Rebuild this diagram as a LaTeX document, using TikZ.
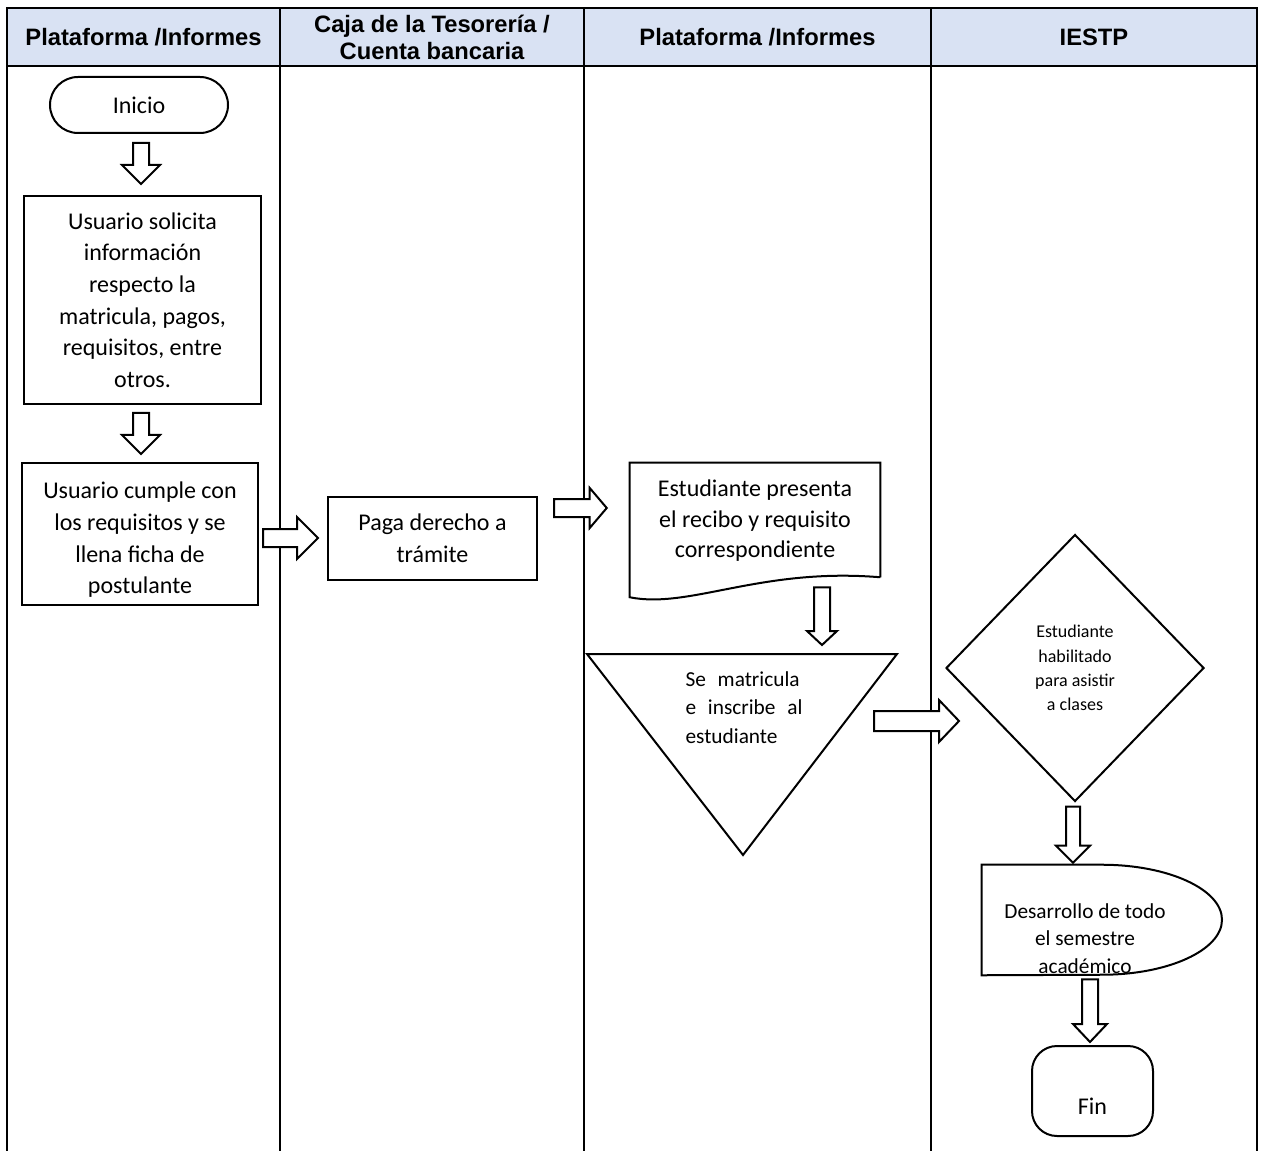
\documentclass[tikz,border=0pt]{standalone}
\usepackage{fontspec}
\setmainfont{Carlito}
\newfontfamily\headfont{Liberation Sans}
\usetikzlibrary{calc,shapes.geometric}
\definecolor{headblue}{HTML}{D9E2F3}

\tikzset{
  lane/.style={line width=1.5pt},
  headtext/.style={font=\headfont\bfseries\fontsize{17.8}{20.25}\selectfont, align=center},
  shapeline/.style={draw=black, line width=1.5pt, fill=white},
  bodytext/.style={font=\fontsize{18}{23.7}\selectfont, align=center},
  box/.style={shapeline, bodytext, inner sep=0pt},
  blockarrow/.style={draw=black, line width=1.5pt, fill=white, line join=miter},
}

% hollow block arrows: start point, end point, shaft half width, head half width, head length
\newcommand\blkdown[5]{%
  \draw[blockarrow] let \p1=#1, \p2=#2 in
    (\x1-#3,\y1) -- (\x1+#3,\y1) -- (\x1+#3,\y2+#5) -- (\x1+#4,\y2+#5) -- (\x1,\y2)
    -- (\x1-#4,\y2+#5) -- (\x1-#3,\y2+#5) -- cycle;}
\newcommand\blkright[5]{%
  \draw[blockarrow] let \p1=#1, \p2=#2 in
    (\x1,\y1+#3) -- (\x2-#5,\y1+#3) -- (\x2-#5,\y1+#4) -- (\x2,\y1)
    -- (\x2-#5,\y1-#4) -- (\x2-#5,\y1-#3) -- (\x1,\y1-#3) -- cycle;}

\begin{document}
\begin{tikzpicture}[x=0.75pt,y=-0.75pt]
\useasboundingbox (0,0) rectangle (1263,1151);

% swimlane table
\fill[headblue] (7,8) rectangle (1257,66);
\draw[lane] (7,1151) -- (7,8) -- (1257,8) -- (1257,1151);
\draw[lane] (7,66) -- (1257,66);
\foreach \x in {280,584,931} \draw[lane] (\x,8) -- (\x,1151);

\node[headtext] (h1) at (143.5,37) {Plataforma /Informes};
\node[headtext] (h2) at (432,37.5) {Caja de la Tesorería /\\Cuenta bancaria};
\node[headtext] (h3) at (757.5,37) {Plataforma /Informes};
\node[headtext] (h4) at (1094,37) {IESTP};

% lane 1
\node[box, rounded corners=21pt, minimum width=133.5pt, minimum height=42pt] (inicio) at (139,105) {Inicio};
\node[box, minimum width=177.75pt, minimum height=156pt] (box1) at (142.5,300)
  {Usuario solicita\\información\\respecto la\\matricula, pagos,\\requisitos, entre\\otros.};
\node[shapeline, inner sep=0pt, minimum width=177pt, minimum height=106.5pt,
  path picture={\node[bodytext, font=\fontsize{18}{23.8}\selectfont] (box2text) at ([yshift=-4.5pt]path picture bounding box.center)
  {Usuario cumple con\\los requisitos y se\\llena ficha de\\postulante};}] (box2) at (140,534) {};

% lane 2
\node[box, font=\fontsize{18}{24}\selectfont, minimum width=156.75pt, minimum height=62.25pt] (paga) at (432.5,538.5) {Paga derecho a\\trámite};

% lane 3: document and merge
\node[bodytext, font=\fontsize{18}{22.9}\selectfont, minimum width=187.5pt, minimum height=87pt, inner sep=0pt] (doc) at (755,521)
  {Estudiante presenta\\el recibo y requisito\\correspondiente};
\draw[shapeline, fill=none] ($(doc.south east)+(0,-2)$) -- (doc.north east) -- (doc.north west) -- ($(doc.south west)+(0,18)$)
  .. controls ($(doc.south west)+(60,30)$) and ($(doc.south east)+(-120,-12)$) .. ($(doc.south east)+(0,-2)$);

\node[font=\fontsize{16}{21.4}\selectfont, align=left, inner sep=0pt] (merge) at (744,707.5)
  {Se\hspace{0.55em}matricula\\e\hspace{0.55em}inscribe\hspace{0.55em}al\\estudiante};
\draw[shapeline, fill=none] ($(merge)+(-157,-53.5)$) -- ($(merge)+(153,-53.5)$) -- ($(merge)+(-1,147.5)$) -- cycle;

% lane 4
\node[shapeline, diamond, inner sep=0pt, minimum width=193.5pt, minimum height=200.25pt,
  font=\fontsize{13.5}{18.2}\selectfont, align=center] (decide) at (1075,668)
  {Estudiante\\habilitado\\para asistir\\a clases};

\node[inner sep=0pt, minimum width=180pt, minimum height=82.5pt] (sem) at (1102,920) {};
\begin{scope}
  \clip (sem.north west) -- (sem.north) arc[start angle=90, end angle=-90, x radius=90pt, y radius=41.25pt] -- (sem.south west) -- cycle;
  \node[font=\fontsize{16}{20.6}\selectfont, align=center] (semtext) at (1085,938.5)
    {Desarrollo de todo\\el semestre\\académico};
\end{scope}
\draw[shapeline, fill=none] (sem.north west) -- (sem.north) arc[start angle=90, end angle=-90, x radius=90pt, y radius=41.25pt] -- (sem.south west) -- cycle;

\node[shapeline, rounded corners=18.75pt, inner sep=0pt, minimum width=90.75pt, minimum height=67.5pt,
  path picture={\node[bodytext] (fintext) at ([yshift=-11.25pt]path picture bounding box.center) {Fin};}] (fin) at (1092.5,1091) {};

% block arrows
\blkdown{($(inicio.south)+(2,9)$)}{($(box1.north)+(0,-11)$)}{6pt}{14.25pt}{14.25pt}
\blkdown{($(box1.south)+(-1.5,8)$)}{($(box2.north)+(0,-8)$)}{6pt}{14.25pt}{14.25pt}
\blkright{($(box2.east)+(4,4)$)}{($(paga.west)+(-9,0)$)}{6.75pt}{15.75pt}{15.75pt}
\blkright{($(paga.east)+(16,-30.5)$)}{($(doc.west)+(-23,0)$)}{6.75pt}{15pt}{12.75pt}
\blkdown{($(doc.south)+(67,8)$)}{($(merge)+(78,-62.5)$)}{6pt}{11.25pt}{10.5pt}
\blkright{($(merge)+(130,13.5)$)}{($(decide.west)+(14,53)$)}{7.5pt}{15.75pt}{15pt}
\blkdown{($(decide.south)+(-2,4)$)}{($(sem.north)+(0,-2)$)}{5.25pt}{12.75pt}{12.75pt}
\blkdown{($(sem.south)+(-12,4)$)}{($(fin.north)+(0,-3)$)}{6pt}{12.75pt}{13.5pt}
\end{tikzpicture}
\end{document}
